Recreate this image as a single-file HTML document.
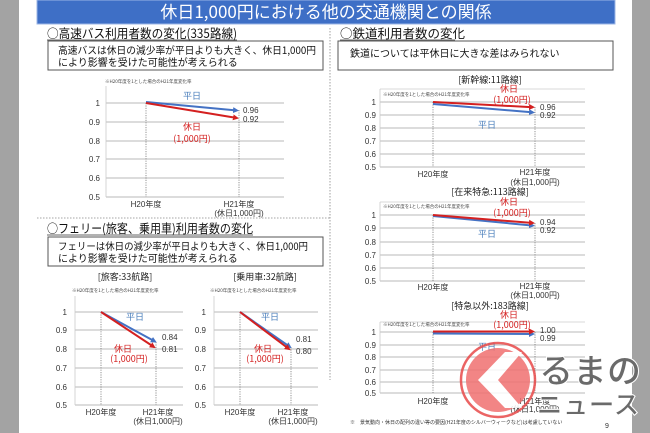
<!DOCTYPE html>
<html><head><meta charset="utf-8"><style>
html,body{margin:0;padding:0;background:#a3a3a3}
svg{display:block}
text{font-family:"Liberation Sans","Noto Sans CJK JP",sans-serif}
.j{font-family:"Noto Sans CJK JP","Liberation Sans",sans-serif}
.ax{font-size:8px;fill:#333}
.nt{font-size:4.5px;fill:#444}
.g{stroke:#c8c8c8;stroke-width:1.3}
.d{stroke:#666;stroke-width:0.7;stroke-dasharray:1.2 1.2}
.b{stroke:#4472c4;stroke-width:2}
.r{stroke:#d42020;stroke-width:2}
.bl{fill:#4a7ebb;font-size:9px}
.rl{fill:#d42020;font-size:9px}
</style></head><body>
<svg width="650" height="433" viewBox="0 0 650 433" xmlns="http://www.w3.org/2000/svg">
<defs>
<marker id="ab" markerWidth="6" markerHeight="6" refX="4" refY="3" orient="auto" markerUnits="userSpaceOnUse"><path d="M0,0 L6,3 L0,6z" fill="#4472c4"/></marker>
<marker id="ar" markerWidth="6" markerHeight="6" refX="4" refY="3" orient="auto" markerUnits="userSpaceOnUse"><path d="M0,0 L6,3 L0,6z" fill="#d42020"/></marker>
</defs>
<rect x="0" y="0" width="650" height="433" fill="#a3a3a3"/>
<rect x="19" y="0" width="613" height="433" fill="#fff"/>
<rect x="37" y="0" width="578" height="24" fill="#3e6fc6" stroke="#9bb6e6" stroke-width="1"/>
<text x="326" y="18" text-anchor="middle" class="j" font-size="17" fill="#fff">休日1,000円における他の交通機関との関係</text>

<line x1="330" y1="28" x2="330" y2="380" stroke="#888" stroke-width="0.8" stroke-dasharray="1.5 1.5"/>
<line x1="37" y1="218" x2="330" y2="218" stroke="#888" stroke-width="0.8" stroke-dasharray="1.5 1.5"/>

<text x="47" y="38" class="j" font-size="12.5" fill="#111" textLength="190" lengthAdjust="spacingAndGlyphs">○高速バス利用者数の変化(335路線)</text>
<line x1="47" y1="40" x2="237" y2="40" stroke="#333" stroke-width="0.8"/>
<rect x="48" y="41" width="275" height="29" fill="#fff" stroke="#555" stroke-width="1"/>
<text x="58" y="54" class="j" font-size="10" fill="#111" textLength="258" lengthAdjust="spacingAndGlyphs">高速バスは休日の減少率が平日よりも大きく、休日1,000円</text>
<text x="58" y="66" class="j" font-size="10" fill="#111">により影響を受けた可能性が考えられる</text>

<text x="340" y="38" class="j" font-size="12.5" fill="#111">○鉄道利用者数の変化</text>
<line x1="340" y1="40" x2="455" y2="40" stroke="#333" stroke-width="0.8"/>
<rect x="338" y="41" width="275" height="29" fill="#fff" stroke="#555" stroke-width="1"/>
<text x="350" y="57" class="j" font-size="10" fill="#111">鉄道については平休日に大きな差はみられない</text>

<!-- BUS chart -->
<text x="105" y="83" class="j nt">※H20年度を1とした場合のH21年度変化率</text>
<line x1="106" y1="86" x2="106" y2="197" stroke="#ccc" stroke-width="0.8"/>
<g class="g"><line x1="106" y1="103" x2="284" y2="103"/><line x1="106" y1="122" x2="284" y2="122"/><line x1="106" y1="141" x2="284" y2="141"/><line x1="106" y1="159" x2="284" y2="159"/><line x1="106" y1="178" x2="284" y2="178"/><line x1="106" y1="197" x2="284" y2="197"/></g>
<g class="ax" text-anchor="end"><text x="100" y="106">1</text><text x="100" y="125">0.9</text><text x="100" y="144">0.8</text><text x="100" y="162">0.7</text><text x="100" y="181">0.6</text><text x="100" y="200">0.5</text></g>
<line class="d" x1="146" y1="103" x2="146" y2="197"/><line class="d" x1="239" y1="110" x2="239" y2="197"/>
<line class="b" x1="146" y1="102" x2="237" y2="110.5" marker-end="url(#ab)"/>
<line class="r" x1="146" y1="103" x2="237" y2="118" marker-end="url(#ar)"/>
<text x="192" y="99" class="j bl" text-anchor="middle">平日</text>
<text x="243" y="113" class="ax">0.96</text><text x="243" y="122" class="ax">0.92</text>
<text x="192" y="130" class="j rl" text-anchor="middle">休日</text>
<text x="192" y="142" class="j rl" text-anchor="middle" font-size="8">(1,000円)</text>
<g class="j ax" text-anchor="middle"><text x="146" y="207">H20年度</text><text x="239" y="207">H21年度</text><text x="239" y="216">(休日1,000円)</text></g>

<!-- Shinkansen -->
<text x="490" y="83" class="j" font-size="9" fill="#222" text-anchor="middle">[新幹線:11路線]</text>
<line x1="380" y1="89" x2="585" y2="89" stroke="#ccc" stroke-width="0.8"/>
<line x1="380" y1="89" x2="380" y2="167" stroke="#ccc" stroke-width="0.8"/>
<text x="383" y="96" class="j nt">※H20年度を1とした場合のH21年度変化率</text>
<g class="g"><line x1="380" y1="102" x2="585" y2="102"/><line x1="380" y1="115" x2="585" y2="115"/><line x1="380" y1="128" x2="585" y2="128"/><line x1="380" y1="141" x2="585" y2="141"/><line x1="380" y1="154" x2="585" y2="154"/><line x1="380" y1="167" x2="585" y2="167"/></g>
<g class="ax" text-anchor="end"><text x="376" y="105">1</text><text x="376" y="118">0.9</text><text x="376" y="131">0.8</text><text x="376" y="144">0.7</text><text x="376" y="157">0.6</text><text x="376" y="170">0.5</text></g>
<line class="d" x1="433" y1="102" x2="433" y2="167"/><line class="d" x1="535" y1="107" x2="535" y2="167"/>
<line class="b" x1="433" y1="104" x2="533" y2="112.4" marker-end="url(#ab)"/>
<line class="r" x1="433" y1="102" x2="533" y2="107.2" marker-end="url(#ar)"/>
<text x="509" y="92" class="j rl" text-anchor="middle">休日</text>
<text x="512" y="103" class="j rl" text-anchor="middle" font-size="8">(1,000円)</text>
<text x="540" y="110" class="ax">0.96</text><text x="540" y="118" class="ax">0.92</text>
<text x="487" y="128" class="j bl" text-anchor="middle">平日</text>
<g class="j ax" text-anchor="middle"><text x="433" y="177">H20年度</text><text x="535" y="175">H21年度</text><text x="535" y="185">(休日1,000円)</text></g>

<!-- Zairai tokkyu -->
<text x="490" y="195" class="j" font-size="9" fill="#222" text-anchor="middle">[在来特急:113路線]</text>
<line x1="380" y1="202" x2="585" y2="202" stroke="#ccc" stroke-width="0.8"/>
<line x1="380" y1="202" x2="380" y2="281" stroke="#ccc" stroke-width="0.8"/>
<text x="383" y="208" class="j nt">※H20年度を1とした場合のH21年度変化率</text>
<g class="g"><line x1="380" y1="215" x2="585" y2="215"/><line x1="380" y1="228" x2="585" y2="228"/><line x1="380" y1="242" x2="585" y2="242"/><line x1="380" y1="255" x2="585" y2="255"/><line x1="380" y1="268" x2="585" y2="268"/><line x1="380" y1="281" x2="585" y2="281"/></g>
<g class="ax" text-anchor="end"><text x="376" y="218">1</text><text x="376" y="231">0.9</text><text x="376" y="245">0.8</text><text x="376" y="258">0.7</text><text x="376" y="271">0.6</text><text x="376" y="284">0.5</text></g>
<line class="d" x1="433" y1="215" x2="433" y2="281"/><line class="d" x1="535" y1="223" x2="535" y2="281"/>
<line class="b" x1="433" y1="216" x2="533" y2="225.6" marker-end="url(#ab)"/>
<line class="r" x1="433" y1="215" x2="533" y2="223" marker-end="url(#ar)"/>
<text x="509" y="205" class="j rl" text-anchor="middle">休日</text>
<text x="512" y="216" class="j rl" text-anchor="middle" font-size="8">(1,000円)</text>
<text x="540" y="225" class="ax">0.94</text><text x="540" y="233" class="ax">0.92</text>
<text x="487" y="237" class="j bl" text-anchor="middle">平日</text>
<g class="j ax" text-anchor="middle"><text x="433" y="290">H20年度</text><text x="535" y="289">H21年度</text><text x="535" y="298">(休日1,000円)</text></g>

<!-- Tokkyu igai -->
<text x="490" y="309" class="j" font-size="9" fill="#222" text-anchor="middle">[特急以外:183路線]</text>
<line x1="380" y1="322" x2="585" y2="322" stroke="#ccc" stroke-width="0.8"/>
<line x1="380" y1="322" x2="380" y2="393" stroke="#ccc" stroke-width="0.8"/>
<text x="383" y="326" class="j nt">※H20年度を1とした場合のH21年度変化率</text>
<g class="g"><line x1="380" y1="332" x2="585" y2="332"/><line x1="380" y1="345" x2="585" y2="345"/><line x1="380" y1="357" x2="585" y2="357"/><line x1="380" y1="370" x2="585" y2="370"/><line x1="380" y1="382" x2="585" y2="382"/><line x1="380" y1="393" x2="585" y2="393"/></g>
<g class="ax" text-anchor="end"><text x="376" y="335">1</text><text x="376" y="348">0.9</text><text x="376" y="360">0.8</text><text x="376" y="373">0.7</text><text x="376" y="385">0.6</text><text x="376" y="396">0.5</text></g>
<line class="d" x1="433" y1="332" x2="433" y2="393"/><line class="d" x1="535" y1="332" x2="535" y2="393"/>
<line class="b" x1="433" y1="333.5" x2="533" y2="334" marker-end="url(#ab)"/>
<line class="r" x1="433" y1="331.5" x2="533" y2="331.5" marker-end="url(#ar)"/>
<text x="509" y="318" class="j rl" text-anchor="middle">休日</text>
<text x="512" y="328" class="j rl" text-anchor="middle" font-size="8">(1,000円)</text>
<text x="540" y="333" class="ax">1.00</text><text x="540" y="341" class="ax">0.99</text>
<text x="487" y="350" class="j bl" text-anchor="middle">平日</text>
<g class="j ax" text-anchor="middle"><text x="433" y="404">H20年度</text><text x="535" y="404">H21年度</text><text x="535" y="412">(休日1,000円)</text></g>

<!-- Ferry section -->
<text x="47" y="233" class="j" font-size="12.5" fill="#111" textLength="206" lengthAdjust="spacingAndGlyphs">○フェリー(旅客、乗用車)利用者数の変化</text>
<line x1="47" y1="235" x2="253" y2="235" stroke="#333" stroke-width="0.8"/>
<rect x="48" y="237" width="275" height="29" fill="#fff" stroke="#555" stroke-width="1"/>
<text x="58" y="250" class="j" font-size="10" fill="#111" textLength="250" lengthAdjust="spacingAndGlyphs">フェリーは休日の減少率が平日よりも大きく、休日1,000円</text>
<text x="58" y="262" class="j" font-size="10" fill="#111">により影響を受けた可能性が考えられる</text>
<text x="125" y="280" class="j" font-size="9" fill="#222" text-anchor="middle">[旅客:33航路]</text>
<text x="265" y="280" class="j" font-size="9" fill="#222" text-anchor="middle">[乗用車:32航路]</text>

<!-- Ferry 1 -->
<text x="72" y="292" class="j nt">※H20年度を1とした場合のH21年度変化率</text>
<line x1="75" y1="296" x2="75" y2="405" stroke="#ccc" stroke-width="0.8"/>
<g class="g"><line x1="75" y1="312" x2="183" y2="312"/><line x1="75" y1="330" x2="183" y2="330"/><line x1="75" y1="349" x2="183" y2="349"/><line x1="75" y1="368" x2="183" y2="368"/><line x1="75" y1="387" x2="183" y2="387"/><line x1="75" y1="405" x2="183" y2="405"/></g>
<g class="ax" text-anchor="end"><text x="67" y="315">1</text><text x="67" y="333">0.9</text><text x="67" y="352">0.8</text><text x="67" y="371">0.7</text><text x="67" y="390">0.6</text><text x="67" y="408">0.5</text></g>
<line class="d" x1="101" y1="312" x2="101" y2="405"/><line class="d" x1="156" y1="342" x2="156" y2="405"/>
<line class="b" x1="101" y1="312" x2="155" y2="341.5" marker-end="url(#ab)"/>
<line class="r" x1="101" y1="312" x2="154" y2="347" marker-end="url(#ar)"/>
<text x="135" y="320" class="j bl" text-anchor="middle">平日</text>
<text x="162" y="340" class="ax">0.84</text><text x="162" y="352" class="ax">0.81</text>
<text x="123" y="352" class="j rl" text-anchor="middle">休日</text>
<text x="129" y="362" class="j rl" text-anchor="middle" font-size="8">(1,000円)</text>
<g class="j ax" text-anchor="middle"><text x="101" y="415">H20年度</text><text x="158" y="415">H21年度</text><text x="158" y="424">(休日1,000円)</text></g>

<!-- Ferry 2 -->
<text x="210" y="292" class="j nt">※H20年度を1とした場合のH21年度変化率</text>
<line x1="214" y1="296" x2="214" y2="405" stroke="#ccc" stroke-width="0.8"/>
<g class="g"><line x1="214" y1="312" x2="318" y2="312"/><line x1="214" y1="330" x2="318" y2="330"/><line x1="214" y1="349" x2="318" y2="349"/><line x1="214" y1="368" x2="318" y2="368"/><line x1="214" y1="387" x2="318" y2="387"/><line x1="214" y1="405" x2="318" y2="405"/></g>
<g class="ax" text-anchor="end"><text x="206" y="315">1</text><text x="206" y="333">0.9</text><text x="206" y="352">0.8</text><text x="206" y="371">0.7</text><text x="206" y="390">0.6</text><text x="206" y="408">0.5</text></g>
<line class="d" x1="240" y1="312" x2="240" y2="405"/><line class="d" x1="291" y1="347" x2="291" y2="405"/>
<line class="b" x1="240" y1="312" x2="290" y2="347" marker-end="url(#ab)"/>
<line class="r" x1="240" y1="312" x2="289" y2="349" marker-end="url(#ar)"/>
<text x="270" y="320" class="j bl" text-anchor="middle">平日</text>
<text x="296" y="342" class="ax">0.81</text><text x="296" y="354" class="ax">0.80</text>
<text x="263" y="352" class="j rl" text-anchor="middle">休日</text>
<text x="265" y="362" class="j rl" text-anchor="middle" font-size="8">(1,000円)</text>
<g class="j ax" text-anchor="middle"><text x="240" y="415">H20年度</text><text x="293" y="415">H21年度</text><text x="293" y="424">(休日1,000円)</text></g>

<text x="350" y="424" class="j" font-size="5" fill="#333">※　景気動向・休日の配列の違い等の要因(H21年度のシルバーウィークなど)は考慮していない</text>
<text x="605" y="428" font-size="7" fill="#333">9</text>

<g opacity="0.85">
<circle cx="498" cy="380" r="37" fill="none" stroke="#e84a4a" stroke-width="2.5"/>
<circle cx="498" cy="380" r="32" fill="#f07070"/>
<path d="M505,352 L478,380 L505,408 L522,408 L498,380 L522,352 Z" fill="#fff"/>
</g>
<text x="590" y="383" class="j" font-size="34" font-weight="bold" fill="#6a6a6a" text-anchor="middle" stroke="#fff" stroke-width="1">るまの</text>
<text x="588" y="414" class="j" font-size="26" font-weight="bold" fill="#6a6a6a" text-anchor="middle" stroke="#fff" stroke-width="1">ニュース</text>
</svg>
</body></html>
